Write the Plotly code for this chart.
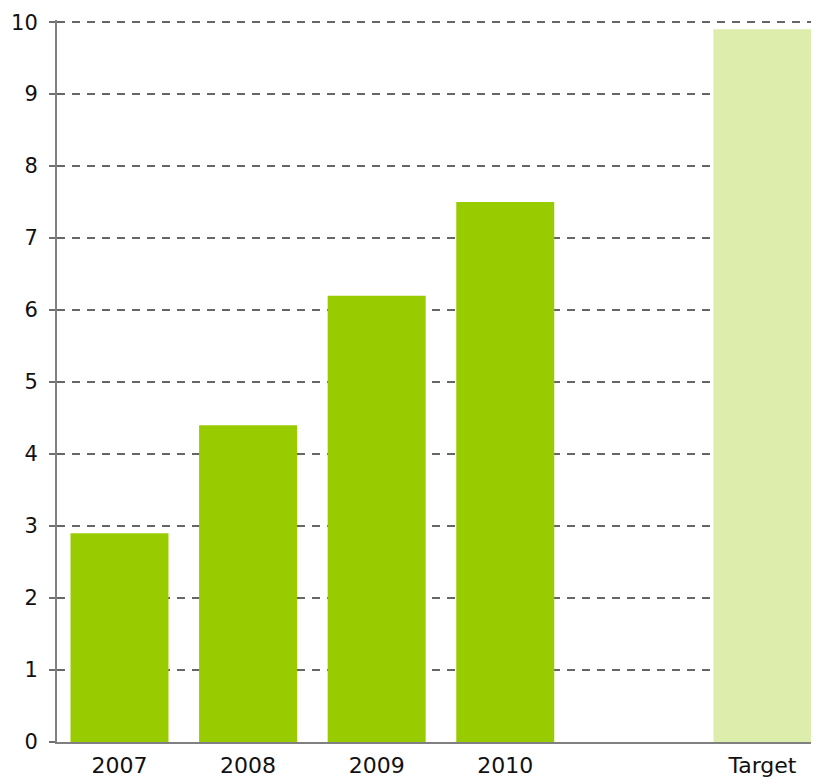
import plotly.graph_objects as go

categories = ["2007", "2008", "2009", "2010", " ", "Target"]
values = [2.9, 4.4, 6.2, 7.5, None, 9.9]
colors = ["#99CC00", "#99CC00", "#99CC00", "#99CC00", "#99CC00", "#DDEDAC"]
y_ticks = list(range(0, 11))

fig = go.Figure(go.Bar(
    x=categories, y=values, marker=dict(color=colors, line=dict(width=0)),
    width=0.762, hoverinfo="x+y",
))

# page body has an 8px margin, compensate in the figure margins
fig.update_layout(
    width=811, height=769,
    margin=dict(l=49, r=0, t=12, b=35, autoexpand=False),
    plot_bgcolor="white", paper_bgcolor="white",
    font=dict(family="DejaVu Sans, Verdana", size=21, color="#111111"),
    showlegend=False,
)
fig.update_xaxes(
    type="category", categoryorder="array", categoryarray=categories,
    range=[-0.486, 5.44], automargin=False,
    showline=True, linecolor="#808080", linewidth=2,
    ticks="", showgrid=False, zeroline=False,
    tickfont=dict(size=22), ticklabelstandoff=3,
)
fig.update_yaxes(
    range=[0, 10.03], tickvals=y_ticks, automargin=False,
    showline=True, linecolor="#808080", linewidth=2,
    ticks="outside", ticklen=6, tickcolor="#707070", tickwidth=1.5,
    showgrid=True, gridcolor="#666666", gridwidth=1.5, griddash="8px,7px",
    zeroline=False, tickfont=dict(size=21), ticklabelstandoff=7,
)

fig.write_html("out.html")
